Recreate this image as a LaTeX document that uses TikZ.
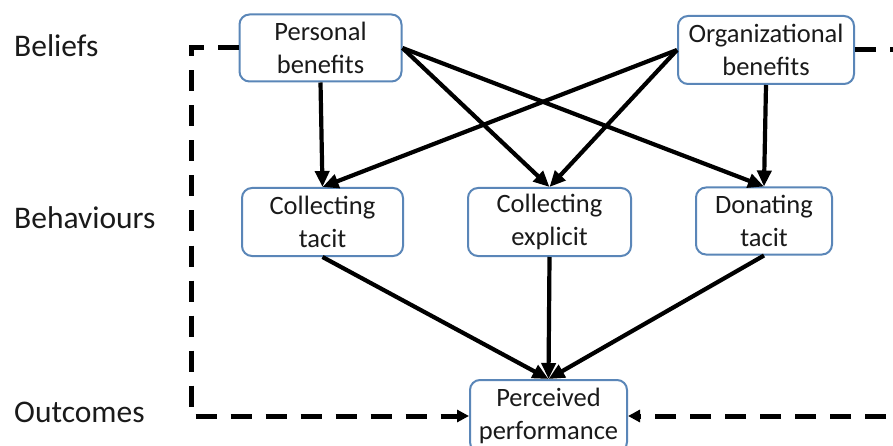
\documentclass[tikz,border=0pt]{standalone}
\usepackage{fontspec}
\setmainfont{Carlito}
\usetikzlibrary{arrows.meta}
\definecolor{boxline}{HTML}{5A86B8}
\definecolor{ink}{HTML}{1A1A1A}

\begin{document}
\begin{tikzpicture}[x=1pt,y=-1pt,
  box/.style={draw=boxline, line width=2pt, rounded corners=10pt, fill=white,
    align=center, inner sep=0pt, text=ink, font=\fontsize{26.5}{32.5}\selectfont},
  level/.style={anchor=base west, inner sep=0pt, text=ink,
    font=\fontsize{31.5}{36}\selectfont},
  link/.style={draw=black, line width=4.2pt, -{Triangle[length=16pt,width=14pt]}},
  feedback/.style={draw=black, line width=5pt, dash pattern=on 21pt off 14pt,
    -{Triangle[length=12pt,width=12pt]}}
]
\clip (0,0) rectangle (893,446);
\fill[white] (0,0) rectangle (893,446);

% row labels
\node[level] (lbel) at (14,57)  {Beliefs};
\node[level] (lbeh) at (14,229) {Behaviours};
\node[level] (lout) at (14,422) {Outcomes};

% beliefs
\node[box, minimum width=162pt, minimum height=67pt] (pb) at (320.5,48) {Personal\\benefits};
\node[box, minimum width=176pt, minimum height=68pt] (ob) at (766,50) {Organizational\\benefits};

% behaviours
\node[box, minimum width=161pt, minimum height=68pt] (ct) at (322.5,222) {Collecting\\tacit};
\node[box, minimum width=163pt, minimum height=68pt] (ce) at (549.5,222) {Collecting\\explicit};
\node[box, minimum width=136pt, minimum height=67pt] (dt) at (764,221) {Donating\\tacit};

% outcome
\node[box, minimum width=157pt, minimum height=72pt] (pp) at (548.5,416) {Perceived\\performance};

% belief -> behaviour links
\draw[link] (pb.south) -- (ct.north);
\draw[link] (pb.east) -- (ce.north);
\draw[link] (pb.east) -- (dt.north);
\draw[link] (ob.west) -- (ct.north);
\draw[link] (ob.west) -- (ce.north);
\draw[link] (ob.south) -- (dt.north);

% behaviour -> outcome links
\draw[link] (ct.south) -- (pp.north);
\draw[link] (ce.south) -- (pp.north);
\draw[link] (dt.south) -- (pp.north);

% dashed feedback paths from beliefs to the outcome
\coordinate (lc) at (191,48);
\coordinate (rc) at (915,50);
\draw[feedback] (pb.west) -- (lc) |- (pp.west);
\draw[feedback] (ob.east) -- (rc) |- (pp.east);
\end{tikzpicture}
\end{document}
